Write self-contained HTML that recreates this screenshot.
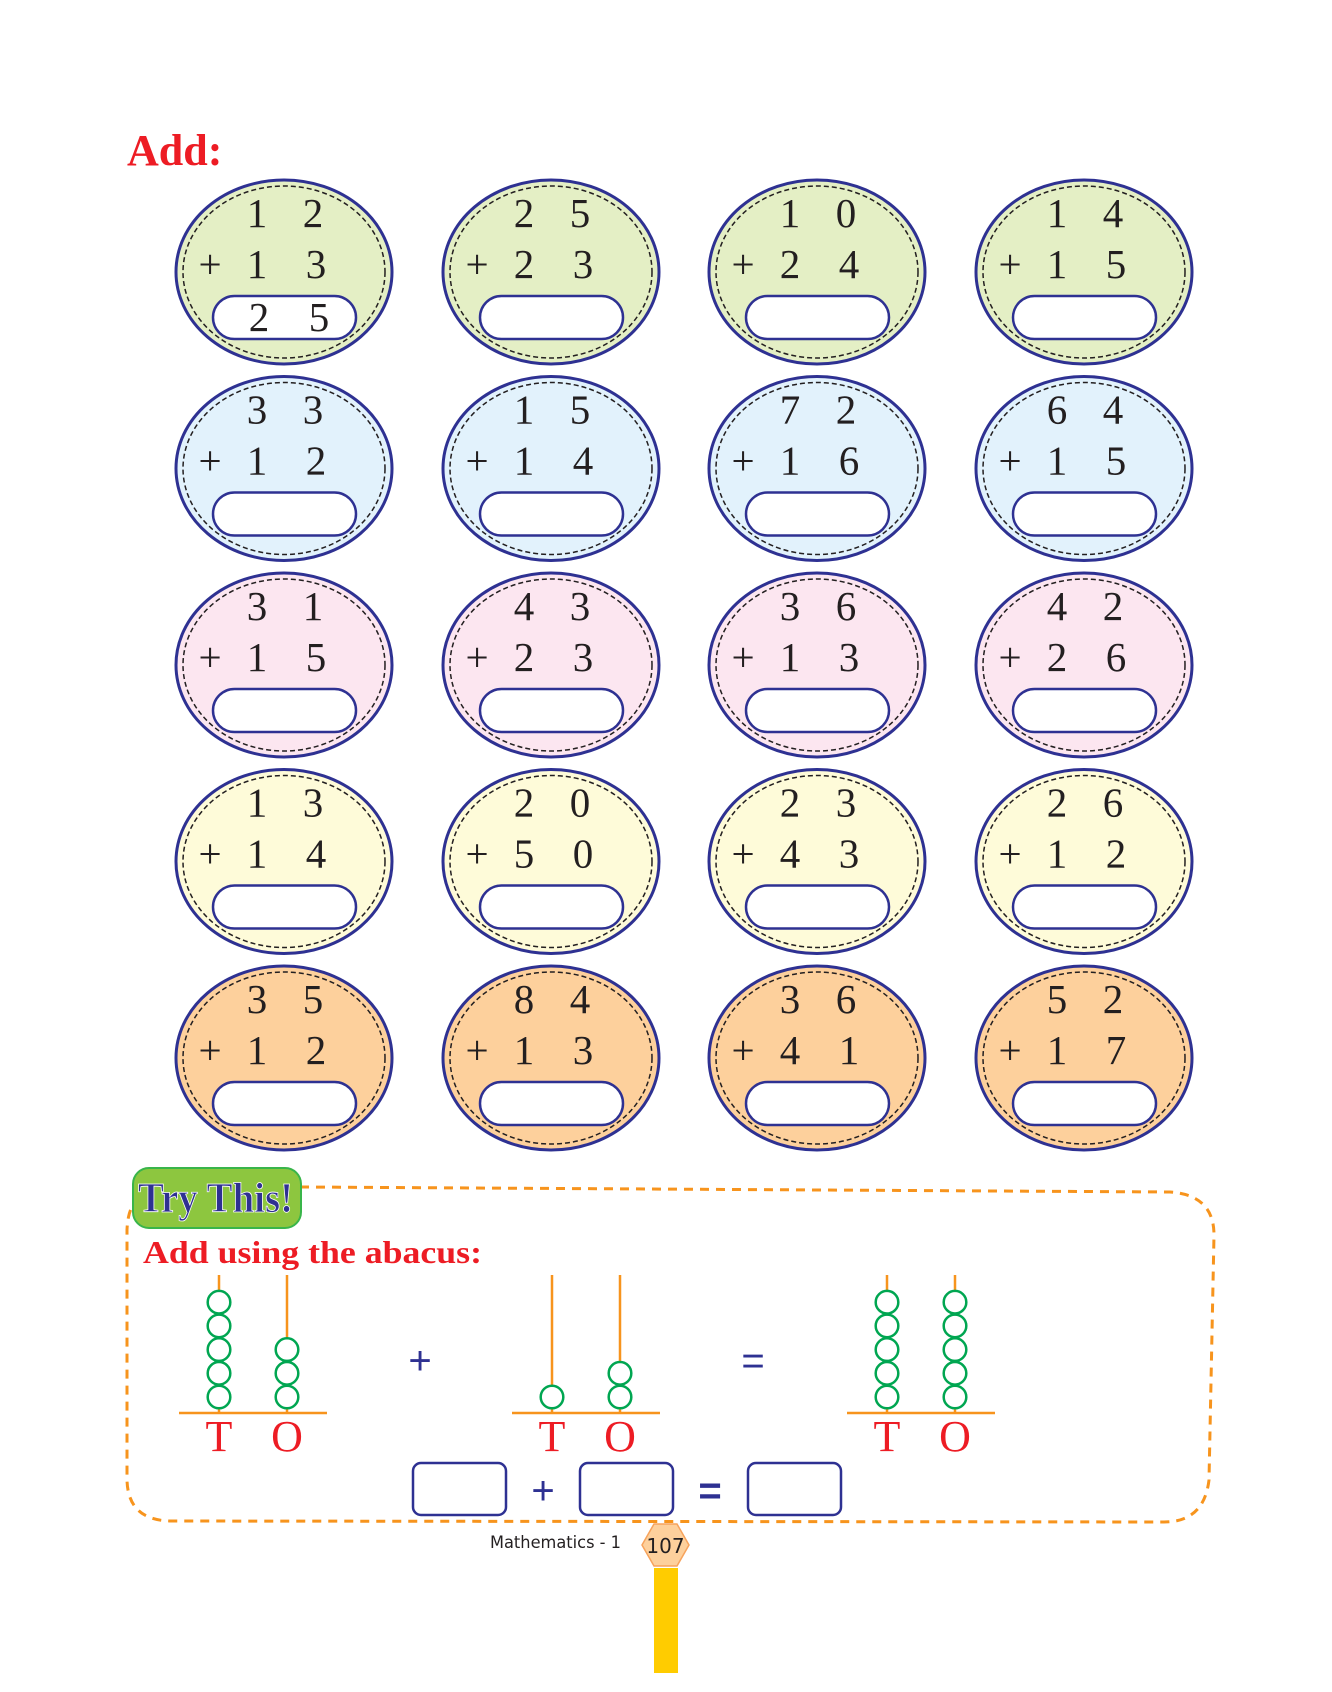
<!DOCTYPE html>
<html><head><meta charset="utf-8"><style>
html,body{margin:0;padding:0;background:#fff}
svg{display:block}
</style></head><body>
<svg width="1332" height="1692" viewBox="0 0 1332 1692" xmlns="http://www.w3.org/2000/svg">
<text x="127" y="165" font-family="Liberation Serif, serif" font-weight="bold" font-size="44" fill="#ed1c24">Add:</text>
<g font-family="Liberation Serif, serif" font-size="41" fill="#231f20" text-anchor="middle">
<!-- row 1 -->
<g transform="translate(284,272)"><ellipse rx="108" ry="92" fill="#e4efc5" stroke="#2e3192" stroke-width="3"/><ellipse rx="101" ry="86" fill="none" stroke="#231f20" stroke-width="1.5" stroke-dasharray="5 3"/><rect x="-71" y="24" width="143" height="43" rx="21.5" fill="#fff" stroke="#2e3192" stroke-width="2.5"/><text x="-27" y="-45">1</text><text x="29" y="-45">2</text><text x="-74" y="6">+</text><text x="-27" y="6">1</text><text x="32" y="6">3</text><text x="-25" y="59">2</text><text x="35" y="59">5</text></g>
<g transform="translate(551,272)"><ellipse rx="108" ry="92" fill="#e4efc5" stroke="#2e3192" stroke-width="3"/><ellipse rx="101" ry="86" fill="none" stroke="#231f20" stroke-width="1.5" stroke-dasharray="5 3"/><rect x="-71" y="24" width="143" height="43" rx="21.5" fill="#fff" stroke="#2e3192" stroke-width="2.5"/><text x="-27" y="-45">2</text><text x="29" y="-45">5</text><text x="-74" y="6">+</text><text x="-27" y="6">2</text><text x="32" y="6">3</text></g>
<g transform="translate(817,272)"><ellipse rx="108" ry="92" fill="#e4efc5" stroke="#2e3192" stroke-width="3"/><ellipse rx="101" ry="86" fill="none" stroke="#231f20" stroke-width="1.5" stroke-dasharray="5 3"/><rect x="-71" y="24" width="143" height="43" rx="21.5" fill="#fff" stroke="#2e3192" stroke-width="2.5"/><text x="-27" y="-45">1</text><text x="29" y="-45">0</text><text x="-74" y="6">+</text><text x="-27" y="6">2</text><text x="32" y="6">4</text></g>
<g transform="translate(1084,272)"><ellipse rx="108" ry="92" fill="#e4efc5" stroke="#2e3192" stroke-width="3"/><ellipse rx="101" ry="86" fill="none" stroke="#231f20" stroke-width="1.5" stroke-dasharray="5 3"/><rect x="-71" y="24" width="143" height="43" rx="21.5" fill="#fff" stroke="#2e3192" stroke-width="2.5"/><text x="-27" y="-45">1</text><text x="29" y="-45">4</text><text x="-74" y="6">+</text><text x="-27" y="6">1</text><text x="32" y="6">5</text></g>
<!-- row 2 -->
<g transform="translate(284,468.5)"><ellipse rx="108" ry="92" fill="#e2f2fc" stroke="#2e3192" stroke-width="3"/><ellipse rx="101" ry="86" fill="none" stroke="#231f20" stroke-width="1.5" stroke-dasharray="5 3"/><rect x="-71" y="24" width="143" height="43" rx="21.5" fill="#fff" stroke="#2e3192" stroke-width="2.5"/><text x="-27" y="-45">3</text><text x="29" y="-45">3</text><text x="-74" y="6">+</text><text x="-27" y="6">1</text><text x="32" y="6">2</text></g>
<g transform="translate(551,468.5)"><ellipse rx="108" ry="92" fill="#e2f2fc" stroke="#2e3192" stroke-width="3"/><ellipse rx="101" ry="86" fill="none" stroke="#231f20" stroke-width="1.5" stroke-dasharray="5 3"/><rect x="-71" y="24" width="143" height="43" rx="21.5" fill="#fff" stroke="#2e3192" stroke-width="2.5"/><text x="-27" y="-45">1</text><text x="29" y="-45">5</text><text x="-74" y="6">+</text><text x="-27" y="6">1</text><text x="32" y="6">4</text></g>
<g transform="translate(817,468.5)"><ellipse rx="108" ry="92" fill="#e2f2fc" stroke="#2e3192" stroke-width="3"/><ellipse rx="101" ry="86" fill="none" stroke="#231f20" stroke-width="1.5" stroke-dasharray="5 3"/><rect x="-71" y="24" width="143" height="43" rx="21.5" fill="#fff" stroke="#2e3192" stroke-width="2.5"/><text x="-27" y="-45">7</text><text x="29" y="-45">2</text><text x="-74" y="6">+</text><text x="-27" y="6">1</text><text x="32" y="6">6</text></g>
<g transform="translate(1084,468.5)"><ellipse rx="108" ry="92" fill="#e2f2fc" stroke="#2e3192" stroke-width="3"/><ellipse rx="101" ry="86" fill="none" stroke="#231f20" stroke-width="1.5" stroke-dasharray="5 3"/><rect x="-71" y="24" width="143" height="43" rx="21.5" fill="#fff" stroke="#2e3192" stroke-width="2.5"/><text x="-27" y="-45">6</text><text x="29" y="-45">4</text><text x="-74" y="6">+</text><text x="-27" y="6">1</text><text x="32" y="6">5</text></g>
<!-- row 3 -->
<g transform="translate(284,665)"><ellipse rx="108" ry="92" fill="#fce6f0" stroke="#2e3192" stroke-width="3"/><ellipse rx="101" ry="86" fill="none" stroke="#231f20" stroke-width="1.5" stroke-dasharray="5 3"/><rect x="-71" y="24" width="143" height="43" rx="21.5" fill="#fff" stroke="#2e3192" stroke-width="2.5"/><text x="-27" y="-45">3</text><text x="29" y="-45">1</text><text x="-74" y="6">+</text><text x="-27" y="6">1</text><text x="32" y="6">5</text></g>
<g transform="translate(551,665)"><ellipse rx="108" ry="92" fill="#fce6f0" stroke="#2e3192" stroke-width="3"/><ellipse rx="101" ry="86" fill="none" stroke="#231f20" stroke-width="1.5" stroke-dasharray="5 3"/><rect x="-71" y="24" width="143" height="43" rx="21.5" fill="#fff" stroke="#2e3192" stroke-width="2.5"/><text x="-27" y="-45">4</text><text x="29" y="-45">3</text><text x="-74" y="6">+</text><text x="-27" y="6">2</text><text x="32" y="6">3</text></g>
<g transform="translate(817,665)"><ellipse rx="108" ry="92" fill="#fce6f0" stroke="#2e3192" stroke-width="3"/><ellipse rx="101" ry="86" fill="none" stroke="#231f20" stroke-width="1.5" stroke-dasharray="5 3"/><rect x="-71" y="24" width="143" height="43" rx="21.5" fill="#fff" stroke="#2e3192" stroke-width="2.5"/><text x="-27" y="-45">3</text><text x="29" y="-45">6</text><text x="-74" y="6">+</text><text x="-27" y="6">1</text><text x="32" y="6">3</text></g>
<g transform="translate(1084,665)"><ellipse rx="108" ry="92" fill="#fce6f0" stroke="#2e3192" stroke-width="3"/><ellipse rx="101" ry="86" fill="none" stroke="#231f20" stroke-width="1.5" stroke-dasharray="5 3"/><rect x="-71" y="24" width="143" height="43" rx="21.5" fill="#fff" stroke="#2e3192" stroke-width="2.5"/><text x="-27" y="-45">4</text><text x="29" y="-45">2</text><text x="-74" y="6">+</text><text x="-27" y="6">2</text><text x="32" y="6">6</text></g>
<!-- row 4 -->
<g transform="translate(284,861.5)"><ellipse rx="108" ry="92" fill="#fefbd9" stroke="#2e3192" stroke-width="3"/><ellipse rx="101" ry="86" fill="none" stroke="#231f20" stroke-width="1.5" stroke-dasharray="5 3"/><rect x="-71" y="24" width="143" height="43" rx="21.5" fill="#fff" stroke="#2e3192" stroke-width="2.5"/><text x="-27" y="-45">1</text><text x="29" y="-45">3</text><text x="-74" y="6">+</text><text x="-27" y="6">1</text><text x="32" y="6">4</text></g>
<g transform="translate(551,861.5)"><ellipse rx="108" ry="92" fill="#fefbd9" stroke="#2e3192" stroke-width="3"/><ellipse rx="101" ry="86" fill="none" stroke="#231f20" stroke-width="1.5" stroke-dasharray="5 3"/><rect x="-71" y="24" width="143" height="43" rx="21.5" fill="#fff" stroke="#2e3192" stroke-width="2.5"/><text x="-27" y="-45">2</text><text x="29" y="-45">0</text><text x="-74" y="6">+</text><text x="-27" y="6">5</text><text x="32" y="6">0</text></g>
<g transform="translate(817,861.5)"><ellipse rx="108" ry="92" fill="#fefbd9" stroke="#2e3192" stroke-width="3"/><ellipse rx="101" ry="86" fill="none" stroke="#231f20" stroke-width="1.5" stroke-dasharray="5 3"/><rect x="-71" y="24" width="143" height="43" rx="21.5" fill="#fff" stroke="#2e3192" stroke-width="2.5"/><text x="-27" y="-45">2</text><text x="29" y="-45">3</text><text x="-74" y="6">+</text><text x="-27" y="6">4</text><text x="32" y="6">3</text></g>
<g transform="translate(1084,861.5)"><ellipse rx="108" ry="92" fill="#fefbd9" stroke="#2e3192" stroke-width="3"/><ellipse rx="101" ry="86" fill="none" stroke="#231f20" stroke-width="1.5" stroke-dasharray="5 3"/><rect x="-71" y="24" width="143" height="43" rx="21.5" fill="#fff" stroke="#2e3192" stroke-width="2.5"/><text x="-27" y="-45">2</text><text x="29" y="-45">6</text><text x="-74" y="6">+</text><text x="-27" y="6">1</text><text x="32" y="6">2</text></g>
<!-- row 5 -->
<g transform="translate(284,1058)"><ellipse rx="108" ry="92" fill="#fdd09c" stroke="#2e3192" stroke-width="3"/><ellipse rx="101" ry="86" fill="none" stroke="#231f20" stroke-width="1.5" stroke-dasharray="5 3"/><rect x="-71" y="24" width="143" height="43" rx="21.5" fill="#fff" stroke="#2e3192" stroke-width="2.5"/><text x="-27" y="-45">3</text><text x="29" y="-45">5</text><text x="-74" y="6">+</text><text x="-27" y="6">1</text><text x="32" y="6">2</text></g>
<g transform="translate(551,1058)"><ellipse rx="108" ry="92" fill="#fdd09c" stroke="#2e3192" stroke-width="3"/><ellipse rx="101" ry="86" fill="none" stroke="#231f20" stroke-width="1.5" stroke-dasharray="5 3"/><rect x="-71" y="24" width="143" height="43" rx="21.5" fill="#fff" stroke="#2e3192" stroke-width="2.5"/><text x="-27" y="-45">8</text><text x="29" y="-45">4</text><text x="-74" y="6">+</text><text x="-27" y="6">1</text><text x="32" y="6">3</text></g>
<g transform="translate(817,1058)"><ellipse rx="108" ry="92" fill="#fdd09c" stroke="#2e3192" stroke-width="3"/><ellipse rx="101" ry="86" fill="none" stroke="#231f20" stroke-width="1.5" stroke-dasharray="5 3"/><rect x="-71" y="24" width="143" height="43" rx="21.5" fill="#fff" stroke="#2e3192" stroke-width="2.5"/><text x="-27" y="-45">3</text><text x="29" y="-45">6</text><text x="-74" y="6">+</text><text x="-27" y="6">4</text><text x="32" y="6">1</text></g>
<g transform="translate(1084,1058)"><ellipse rx="108" ry="92" fill="#fdd09c" stroke="#2e3192" stroke-width="3"/><ellipse rx="101" ry="86" fill="none" stroke="#231f20" stroke-width="1.5" stroke-dasharray="5 3"/><rect x="-71" y="24" width="143" height="43" rx="21.5" fill="#fff" stroke="#2e3192" stroke-width="2.5"/><text x="-27" y="-45">5</text><text x="29" y="-45">2</text><text x="-74" y="6">+</text><text x="-27" y="6">1</text><text x="32" y="6">7</text></g>
</g>

<!-- Try this box -->
<path d="M300 1187 L1170 1192 Q1214 1195 1214 1235 L1209 1480 Q1204 1522 1164 1522 L170 1521 Q128 1520 127 1480 L127 1230 Q128 1205 140 1198" fill="none" stroke="#f7941d" stroke-width="3" stroke-dasharray="9 7"/>
<rect x="133" y="1168" width="168" height="60" rx="16" fill="#8dc63f" stroke="#39b54a" stroke-width="2"/>
<text x="138" y="1212" font-family="Liberation Serif, serif" font-weight="bold" font-size="42" fill="#2e3192" stroke="#ffffff" stroke-width="0.8" textLength="155" lengthAdjust="spacingAndGlyphs">Try This!</text>
<text x="143" y="1263" font-family="Liberation Serif, serif" font-weight="bold" font-size="32" fill="#ed1c24" textLength="339" lengthAdjust="spacingAndGlyphs">Add using the abacus:</text>

<g stroke="#f7941d" stroke-width="2.5">
<line x1="219" y1="1275" x2="219" y2="1413"/><line x1="287" y1="1275" x2="287" y2="1413"/><line x1="179" y1="1413" x2="327" y2="1413"/>
<line x1="552" y1="1275" x2="552" y2="1413"/><line x1="620" y1="1275" x2="620" y2="1413"/><line x1="512" y1="1413" x2="660" y2="1413"/>
<line x1="887" y1="1275" x2="887" y2="1413"/><line x1="955" y1="1275" x2="955" y2="1413"/><line x1="847" y1="1413" x2="995" y2="1413"/>
</g>
<g fill="#fff" stroke="#00a651" stroke-width="2.5">
<circle cx="219" cy="1397" r="11.3"/><circle cx="219" cy="1373.3" r="11.3"/><circle cx="219" cy="1349.6" r="11.3"/><circle cx="219" cy="1325.9" r="11.3"/><circle cx="219" cy="1302.2" r="11.3"/>
<circle cx="287" cy="1397" r="11.3"/><circle cx="287" cy="1373.3" r="11.3"/><circle cx="287" cy="1349.6" r="11.3"/>
<circle cx="552" cy="1397" r="11.3"/>
<circle cx="620" cy="1397" r="11.3"/><circle cx="620" cy="1373.3" r="11.3"/>
<circle cx="887" cy="1397" r="11.3"/><circle cx="887" cy="1373.3" r="11.3"/><circle cx="887" cy="1349.6" r="11.3"/><circle cx="887" cy="1325.9" r="11.3"/><circle cx="887" cy="1302.2" r="11.3"/>
<circle cx="955" cy="1397" r="11.3"/><circle cx="955" cy="1373.3" r="11.3"/><circle cx="955" cy="1349.6" r="11.3"/><circle cx="955" cy="1325.9" r="11.3"/><circle cx="955" cy="1302.2" r="11.3"/>
</g>
<g font-family="Liberation Serif, serif" font-size="44" fill="#ed1c24" text-anchor="middle">
<text x="219" y="1451">T</text><text x="287" y="1451">O</text>
<text x="552" y="1451">T</text><text x="620" y="1451">O</text>
<text x="887" y="1451">T</text><text x="955" y="1451">O</text>
</g>
<g font-family="Liberation Sans, sans-serif" font-size="40" fill="#2e3192" text-anchor="middle">
<text x="420" y="1374">+</text><text x="753" y="1374">=</text>
<text x="543" y="1504">+</text><text x="710" y="1504" font-weight="bold">=</text>
</g>
<g fill="none" stroke="#2e3192" stroke-width="2.5">
<rect x="413" y="1463" width="93" height="52" rx="8"/>
<rect x="580" y="1463" width="93" height="52" rx="8"/>
<rect x="748" y="1463" width="93" height="52" rx="8"/>
</g>

<text x="490" y="1548" font-family="DejaVu Sans, sans-serif" font-size="17" fill="#231f20" textLength="131" lengthAdjust="spacingAndGlyphs">Mathematics - 1</text>
<polygon points="654,1524 677,1524 689,1545 677,1566 654,1566 642,1545" fill="#fdd09c" stroke="#f7a35c" stroke-width="1.5"/>
<text x="665.5" y="1553" font-family="DejaVu Sans, sans-serif" font-size="20" fill="#231f20" text-anchor="middle">107</text>
<rect x="654" y="1568" width="24" height="105" fill="#ffcc00"/>
</svg>
</body></html>
